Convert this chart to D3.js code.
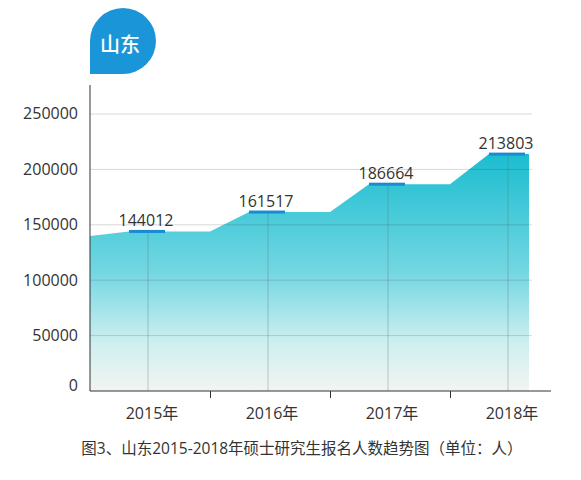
<!DOCTYPE html>
<meta charset="utf-8">
<script src="https://d3js.org/d3.v7.min.js"></script>
<style>
  body { margin: 0; background: #fff; }
  text { font-family: "Open Sans", "Noto Sans CJK SC", sans-serif; fill: #333; }
</style>
<body>
<svg width="581" height="480"></svg>
<script>
// data
var years = ["2015年", "2016年", "2017年", "2018年"];
var applicants = [144012, 161517, 186664, 213803];
var startValue = 140000;
var yTicks = [0, 50000, 100000, 150000, 200000, 250000];
var province = "山东";
var caption = "图3、山东2015-2018年硕士研究生报名人数趋势图（单位：人）";

var svg = d3.select("svg"),
    plotLeft = 90, plotBottom = 391, plotTop = 114, plotRight = 568;

var x = d3.scaleBand().domain(years).range([88, plotRight]).padding(0);
var y = d3.scaleLinear().domain([0, 250000]).range([plotBottom, plotTop]);
function cx(d) { return x(d) + x.bandwidth() / 2; }

// gradient for the area
var grad = svg.append("defs").append("linearGradient")
    .attr("id", "fillGrad")
    .attr("gradientUnits", "userSpaceOnUse")
    .attr("x1", 0).attr("x2", 0)
    .attr("y1", y(d3.max(applicants))).attr("y2", plotBottom);
grad.append("stop").attr("offset", "0").attr("stop-color", "#1bbdd0");
grad.append("stop").attr("offset", "0.5").attr("stop-color", "#74d7e2");
grad.append("stop").attr("offset", "0.8").attr("stop-color", "#cfeff0");
grad.append("stop").attr("offset", "1").attr("stop-color", "#f2f5f0");

// stepped outline: flat shelf around each year
var pts = [[plotLeft, startValue]];
years.forEach(function(yr, i) {
  var c = cx(yr);
  pts.push([c - 19, applicants[i]]);
  pts.push([i < years.length - 1 ? c + 62 : c + 21, applicants[i]]);
});

var area = d3.area()
    .x(function(d) { return d[0]; })
    .y0(plotBottom)
    .y1(function(d) { return y(d[1]); });

svg.append("path")
    .datum(pts)
    .attr("d", area)
    .attr("fill", "url(#fillGrad)");

// horizontal grid
svg.append("g").selectAll("line")
    .data(yTicks.filter(function(d) { return d > 0; }))
    .enter().append("line")
    .attr("x1", plotLeft).attr("x2", 532)
    .attr("y1", function(d) { return y(d); })
    .attr("y2", function(d) { return y(d); })
    .attr("stroke", "rgba(60,60,60,0.2)")
    .attr("stroke-width", 1);

// drop lines
svg.append("g").selectAll("line")
    .data(years)
    .enter().append("line")
    .attr("x1", cx).attr("x2", cx)
    .attr("y1", plotBottom)
    .attr("y2", function(d, i) { return y(applicants[i]); })
    .attr("stroke", "rgba(90,110,110,0.35)")
    .attr("stroke-width", 1);

// highlight bars
svg.append("g").selectAll("rect")
    .data(years)
    .enter().append("rect")
    .attr("x", function(d) { return cx(d) - 19; })
    .attr("y", function(d, i) { return y(applicants[i]) - 1.5; })
    .attr("width", 36)
    .attr("height", 3)
    .attr("fill", "#1a8ad4");

// value labels
svg.append("g").selectAll("text")
    .data(years)
    .enter().append("text")
    .attr("x", function(d) { return cx(d) - 2; })
    .attr("y", function(d, i) { return y(applicants[i]) - 5; })
    .attr("text-anchor", "middle")
    .attr("font-size", 16)
    .text(function(d, i) { return applicants[i]; });

// y axis
var yAxis = svg.append("g")
    .attr("transform", "translate(" + plotLeft + ",0)")
    .call(d3.axisLeft(y).tickValues(yTicks).tickSize(0).tickPadding(12).tickFormat(d3.format("d")));
yAxis.select(".domain").attr("stroke", "#333").attr("d", "M0,85V" + plotBottom);
yAxis.selectAll("text")
    .attr("font-size", 16)
    .attr("font-family", "\"Open Sans\", sans-serif")
    .attr("fill", "#333")
    .attr("dy", function(d) { return d === 0 ? "-0.05em" : "0.3em"; });

// x axis
var xAxis = svg.append("g")
    .attr("transform", "translate(0," + plotBottom + ")");
xAxis.append("line")
    .attr("x1", plotLeft).attr("x2", 551)
    .attr("stroke", "#333");
xAxis.selectAll(".tk")
    .data(years.slice(1))
    .enter().append("line")
    .attr("class", "tk")
    .attr("x1", function(d) { return x(d) + 2.5; })
    .attr("x2", function(d) { return x(d) + 2.5; })
    .attr("y1", 0).attr("y2", 7)
    .attr("stroke", "#333");
xAxis.selectAll(".lbl")
    .data(years)
    .enter().append("text")
    .attr("class", "lbl")
    .attr("x", function(d) { return cx(d) + 4; })
    .attr("y", 28)
    .attr("text-anchor", "middle")
    .attr("font-size", 16)
    .text(function(d) { return d; });

// province badge
var bx = 90, by = 8, bs = 66, r = 33;
svg.append("path")
    .attr("d", "M" + bx + "," + (by + bs) +
      "V" + (by + r) + "A" + r + "," + r + " 0 0 1 " + (bx + r) + "," + by +
      "A" + r + "," + r + " 0 0 1 " + (bx + bs) + "," + (by + r) +
      "A" + r + "," + r + " 0 0 1 " + (bx + r) + "," + (by + bs) + "Z")
    .attr("fill", "#1a96d8");
svg.append("text")
    .attr("x", bx + 30)
    .attr("y", by + 44)
    .attr("text-anchor", "middle")
    .attr("font-size", 20)
    .attr("font-weight", 500)
    .style("fill", "#fff")
    .text(province);

// caption
svg.append("text")
    .attr("x", 302)
    .attr("y", 454)
    .attr("text-anchor", "middle")
    .attr("font-size", 15.5)
    .text(caption);
</script>
</body>
